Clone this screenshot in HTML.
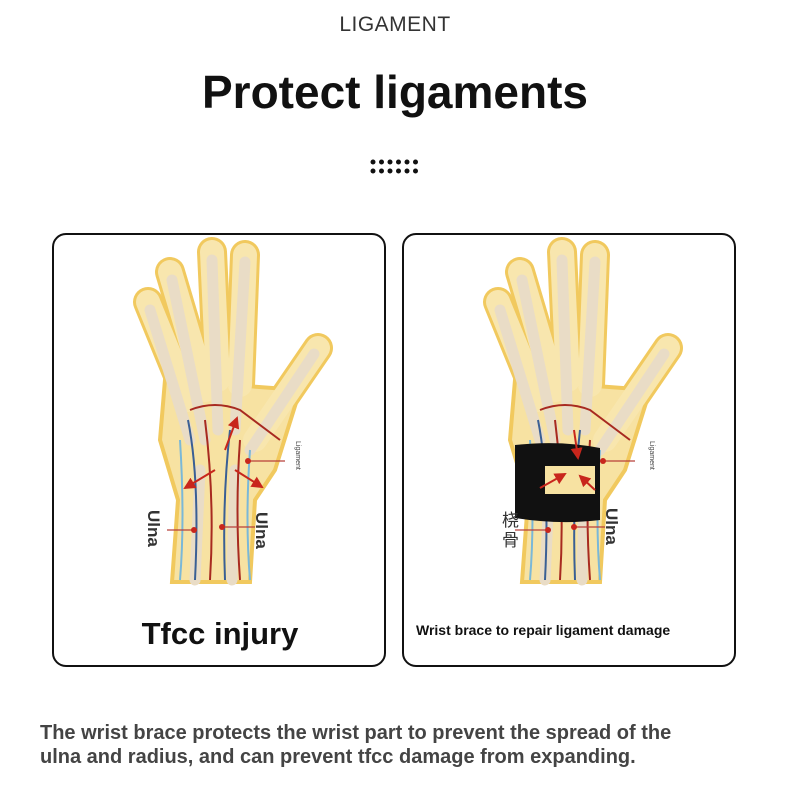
<!DOCTYPE html>
<html><head><meta charset="utf-8"><style>
body{margin:0;width:790px;height:790px;background:#fff;overflow:hidden;font-family:"Liberation Sans","Noto Sans CJK SC",sans-serif;position:relative}
.t1{position:absolute;top:13px;left:0;width:790px;text-align:center;font-size:21px;color:#333;letter-spacing:0.5px}
.t2{position:absolute;top:65px;left:0;width:790px;text-align:center;font-size:46px;font-weight:bold;color:#111}
.panel{position:absolute;top:233px;width:330px;height:430px;border:2px solid #111;border-radius:14px}
.bt{position:absolute;left:40px;top:721px;font-size:20px;font-weight:bold;color:#444;line-height:24px;width:655px}
</style></head><body>
<div class="t1">LIGAMENT</div>
<div class="t2">Protect ligaments</div>
<div class="panel" style="left:52px"></div>
<div class="panel" style="left:402px"></div>
<svg width="790" height="790" style="position:absolute;left:0;top:0" font-family="Liberation Sans, Noto Sans CJK SC, sans-serif">
<g fill="#111">
<circle cx="373" cy="162" r="2.5"/><circle cx="381.5" cy="162" r="2.5"/><circle cx="390" cy="162" r="2.5"/><circle cx="398.5" cy="162" r="2.5"/><circle cx="407" cy="162" r="2.5"/><circle cx="415.5" cy="162" r="2.5"/>
<circle cx="373" cy="171" r="2.5"/><circle cx="381.5" cy="171" r="2.5"/><circle cx="390" cy="171" r="2.5"/><circle cx="398.5" cy="171" r="2.5"/><circle cx="407" cy="171" r="2.5"/><circle cx="415.5" cy="171" r="2.5"/>
</g>
<defs>
<g id="hand">
<g stroke="#f1c95e" stroke-linecap="round" stroke-width="30" fill="none">
<line x1="148" y1="302" x2="188" y2="400"/><line x1="170" y1="272" x2="205" y2="390"/><line x1="212" y1="252" x2="218" y2="380"/><line x1="245" y1="255" x2="240" y2="385"/><line x1="318" y1="348" x2="255" y2="440"/>
</g>
<path d="M165 380 L300 390 L275 470 L255 500 L250 582 L172 582 L178 500 L160 440 Z" fill="#f7e2a2" stroke="#f1c95e" stroke-width="4"/>
<g stroke="#f8e6ae" stroke-linecap="round" stroke-width="24" fill="none">
<line x1="148" y1="302" x2="188" y2="400"/><line x1="170" y1="272" x2="205" y2="390"/><line x1="212" y1="252" x2="218" y2="380"/><line x1="245" y1="255" x2="240" y2="385"/><line x1="318" y1="348" x2="255" y2="440"/>
</g>
<g stroke="#e9dcc6" stroke-linecap="round" stroke-width="11" fill="none">
<line x1="150" y1="310" x2="190" y2="440"/><line x1="172" y1="280" x2="205" y2="440"/><line x1="212" y1="260" x2="218" y2="430"/><line x1="245" y1="262" x2="235" y2="430"/><line x1="314" y1="354" x2="250" y2="450"/>
<line x1="200" y1="470" x2="195" y2="580"/><line x1="235" y1="470" x2="232" y2="580"/>
</g>
<g fill="none" stroke-width="2">
<path d="M188 420 Q200 480 195 580" stroke="#3a5f95"/><path d="M205 420 Q215 500 210 580" stroke="#a82a20"/><path d="M230 430 Q222 500 225 580" stroke="#3a5f95"/><path d="M240 440 Q235 510 240 580" stroke="#a82a20"/><path d="M180 440 Q185 520 180 580" stroke="#7ab8d8"/><path d="M250 450 Q245 520 250 580" stroke="#7ab8d8"/>
<path d="M190 410 Q215 400 240 410 L280 440" stroke="#a82a20"/>
</g>
</g>
<marker id="ar" markerWidth="6" markerHeight="6" refX="5" refY="3" orient="auto"><path d="M0 0L6 3L0 6Z" fill="#c8261c"/></marker>
</defs>
<use href="#hand"/>
<use href="#hand" x="350"/>
<g stroke="#c8261c" stroke-width="2" fill="none" marker-end="url(#ar)">
<line x1="215" y1="470" x2="185" y2="488"/><line x1="235" y1="470" x2="262" y2="487"/><line x1="225" y1="450" x2="237" y2="418"/>
</g>
<g stroke="#b8403a" stroke-width="1.2"><line x1="248" y1="461" x2="285" y2="461"/><line x1="167" y1="530" x2="194" y2="530"/><line x1="222" y1="527" x2="255" y2="527"/>
<line x1="598" y1="461" x2="635" y2="461"/><line x1="515" y1="530" x2="545" y2="530"/><line x1="572" y1="527" x2="605" y2="527"/></g>
<g fill="#c8261c"><circle cx="248" cy="461" r="3"/><circle cx="194" cy="530" r="3"/><circle cx="222" cy="527" r="3"/><circle cx="548" cy="530" r="3"/><circle cx="574" cy="527" r="3"/></g>
<path d="M515 445 Q560 440 600 448 L600 520 Q560 525 515 518 Z" fill="#111"/>
<rect x="545" y="466" width="50" height="28" fill="#f7e2a2"/>
<g stroke="#c8261c" stroke-width="2" fill="none" marker-end="url(#ar)"><line x1="540" y1="488" x2="565" y2="474"/><line x1="595" y1="490" x2="580" y2="476"/><line x1="574" y1="430" x2="578" y2="458"/></g>
<circle cx="603" cy="461" r="3" fill="#c8261c"/>
<g font-size="17" font-weight="bold" fill="#333">
<text transform="translate(148,510) rotate(90)">Ulna</text>
<text transform="translate(256,512) rotate(90)">Ulna</text>
<text transform="translate(606,508) rotate(90)">Ulna</text>
</g>
<g font-size="7" fill="#444"><text transform="translate(296,441) rotate(90)">Ligament</text><text transform="translate(650,441) rotate(90)">Ligament</text></g>
<text x="502" y="526" font-size="17" fill="#333">桡</text><text x="502" y="546" font-size="17" fill="#333">骨</text>
<text x="220" y="644" text-anchor="middle" font-size="31" font-weight="bold" fill="#111">Tfcc injury</text>
<text x="416" y="635" font-size="14" font-weight="bold" fill="#111">Wrist brace to repair ligament damage</text>
</svg>
<div class="bt">The wrist brace protects the wrist part to prevent the spread of the ulna and radius, and can prevent tfcc damage from expanding.</div>
</body></html>
